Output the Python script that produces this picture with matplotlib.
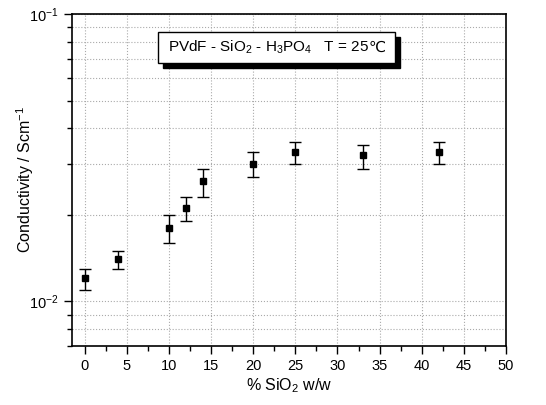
import matplotlib.pyplot as plt
from matplotlib.patches import Rectangle
from matplotlib.ticker import LogLocator, MultipleLocator, NullFormatter

plt.rcParams['font.family'] = ['Liberation Sans', 'DejaVu Sans']
plt.rcParams['mathtext.fontset'] = 'custom'
plt.rcParams['mathtext.rm'] = 'Liberation Sans'
plt.rcParams['mathtext.it'] = 'Liberation Sans:italic'

# SiO2 content (% w/w) and conductivity (S/cm) with error
sio2 = [0, 4, 10, 12, 14, 20, 25, 33, 42]
conductivity = [0.0121, 0.0141, 0.0180, 0.0211, 0.0262, 0.0301, 0.0331, 0.0322, 0.0331]
err_low = [0.0011, 0.0011, 0.0020, 0.0021, 0.0032, 0.0031, 0.0031, 0.0032, 0.0031]
err_high = [0.0009, 0.0009, 0.0020, 0.0019, 0.0028, 0.0029, 0.0029, 0.0028, 0.0029]

fig = plt.figure(figsize=(5.46, 4.05), dpi=100)
ax = fig.add_axes([0.1319, 0.1457, 0.7948, 0.8197])

ax.errorbar(sio2, conductivity, yerr=[err_low, err_high], fmt='s', color='black',
            markersize=5, capsize=4, elinewidth=1, capthick=1, zorder=3)

ax.set_yscale('log')
ax.set_xlim(-1.5, 50)
ax.set_ylim(0.007, 0.1)
ax.xaxis.set_major_locator(MultipleLocator(5))
ax.xaxis.set_minor_locator(MultipleLocator(2.5))
ax.yaxis.set_major_locator(LogLocator(base=10))
ax.yaxis.set_minor_locator(LogLocator(base=10, subs=range(2, 10)))
ax.yaxis.set_minor_formatter(NullFormatter())

ax.tick_params(which='major', direction='out', length=6, width=1, labelsize=10.5)
ax.tick_params(which='minor', direction='out', length=3.5, width=1)
for s in ax.spines.values():
    s.set_linewidth(1.2)

ax.grid(True, axis='x', which='major', linestyle=':', color='#aaaaaa', linewidth=0.8)
ax.grid(True, axis='y', which='both', linestyle=':', color='#aaaaaa', linewidth=0.8)

ax.set_xlabel('% SiO$_2$ w/w', fontsize=11.5, labelpad=2.5)
ax.set_ylabel('Conductivity / Scm$^{-1}$', fontsize=11.5, labelpad=-5)

# label box with black drop shadow
bx, by, bw, bh = 0.198, 0.852, 0.546, 0.094
ax.add_patch(Rectangle((bx + 0.012, by - 0.016), bw, bh, transform=ax.transAxes,
                       facecolor='black', edgecolor='black', zorder=4))
ax.add_patch(Rectangle((bx, by), bw, bh, transform=ax.transAxes,
                       facecolor='white', edgecolor='black', linewidth=1, zorder=5))
label = ax.text(bx + bw / 2 - 0.018, by + bh / 2, 'PVdF - SiO$_2$ - H$_3$PO$_4$   T = 25',
                transform=ax.transAxes, ha='center', va='center', fontsize=11, zorder=6)
ax.annotate('\u2103', xy=(1, 0.5), xycoords=label, ha='left', va='center',
            fontsize=11, family='DejaVu Sans', zorder=6)

fig.savefig('out.png', dpi=100)
